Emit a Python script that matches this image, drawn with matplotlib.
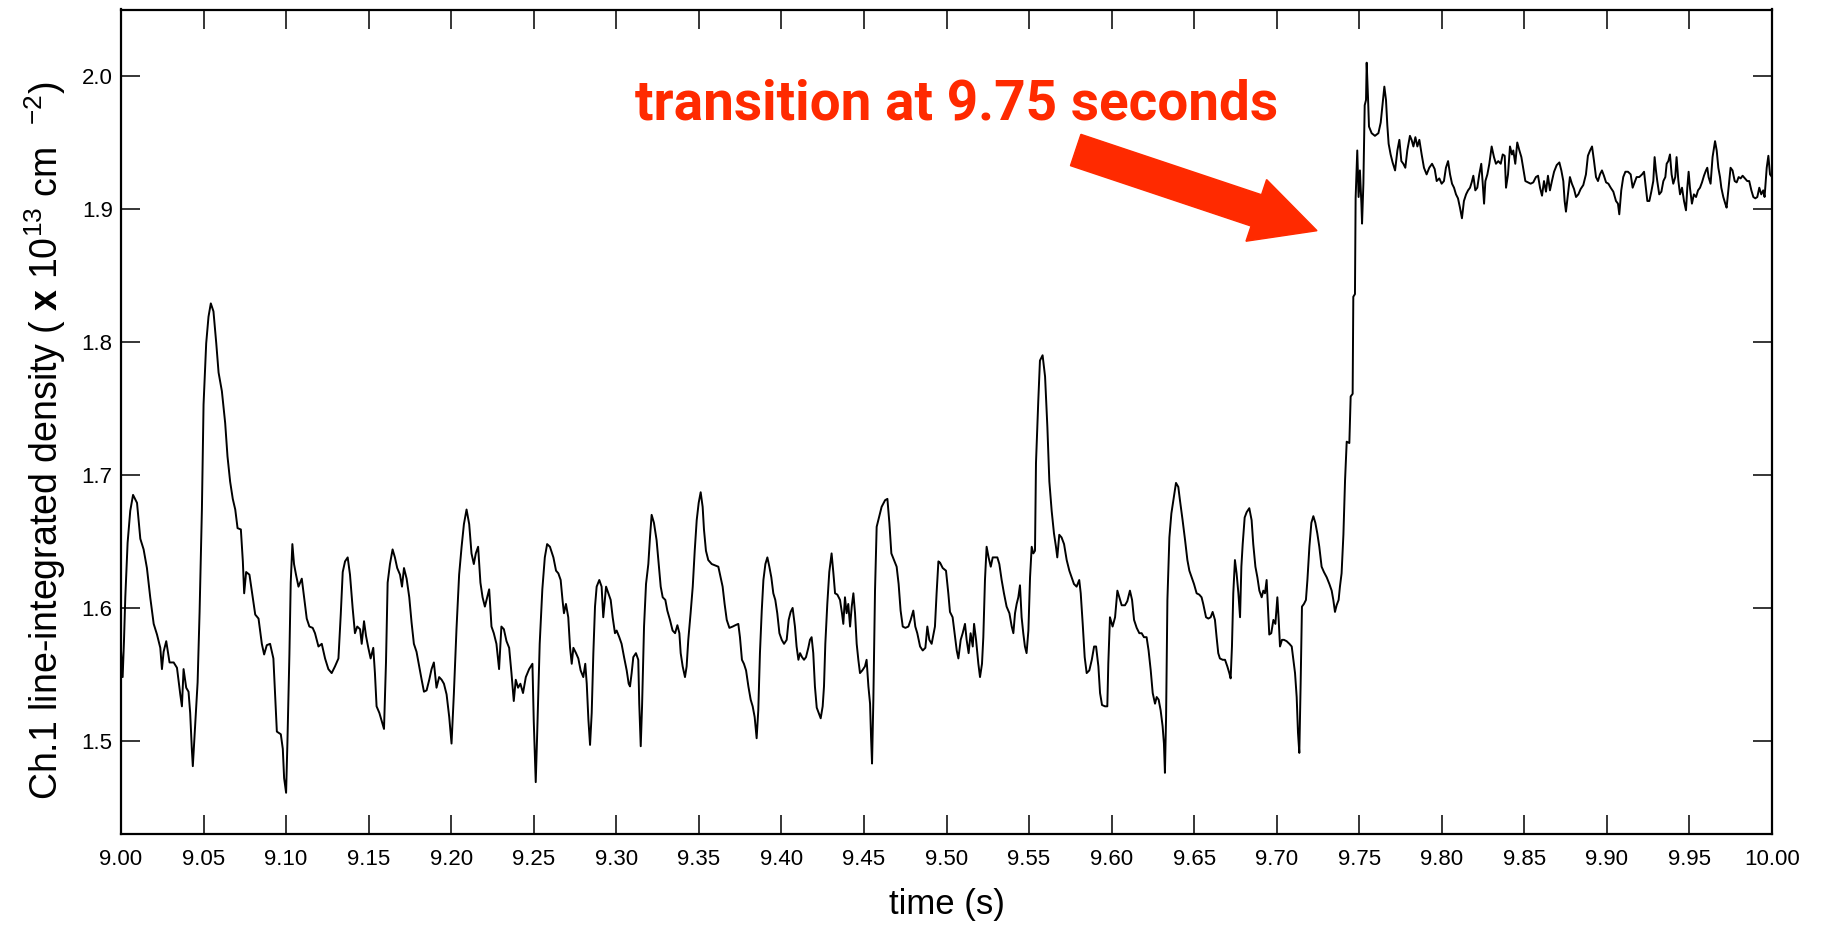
import numpy as np
from matplotlib import pyplot as plt
from matplotlib.patches import FancyArrow
from matplotlib.transforms import IdentityTransform

plt.rcParams['font.family'] = ['Liberation Sans', 'DejaVu Sans']
plt.rcParams['mathtext.fontset'] = 'custom'
plt.rcParams['mathtext.rm'] = 'Liberation Sans'
plt.rcParams['mathtext.bf'] = 'Liberation Sans:bold'

# (time [s], line-integrated density [1e13 cm^-2]) samples, channel 1
low_a = [
    (9.0000, 1.568), (9.0010, 1.548), (9.0018, 1.575), (9.0026, 1.608), (9.0040, 1.649),
    (9.0056, 1.673), (9.0073, 1.685), (9.0097, 1.679), (9.0117, 1.652), (9.0137, 1.644),
    (9.0157, 1.630), (9.0177, 1.608), (9.0198, 1.588), (9.0218, 1.580), (9.0238, 1.570),
    (9.0248, 1.554), (9.0258, 1.567), (9.0274, 1.575), (9.0294, 1.559), (9.0319, 1.559),
    (9.0339, 1.555), (9.0359, 1.535), (9.0369, 1.526), (9.0379, 1.554), (9.0395, 1.540),
    (9.0409, 1.537), (9.0419, 1.521), (9.0429, 1.494), (9.0435, 1.481), (9.0450, 1.513),
    (9.0464, 1.544), (9.0476, 1.597), (9.0490, 1.674), (9.0500, 1.753), (9.0516, 1.799),
    (9.0530, 1.819), (9.0544, 1.829), (9.0560, 1.823), (9.0577, 1.799), (9.0591, 1.777),
    (9.0611, 1.763), (9.0631, 1.739), (9.0645, 1.714), (9.0661, 1.695), (9.0677, 1.682),
    (9.0692, 1.674), (9.0706, 1.660), (9.0726, 1.659), (9.0738, 1.635), (9.0746, 1.611),
    (9.0758, 1.627), (9.0778, 1.625), (9.0798, 1.608), (9.0813, 1.595), (9.0833, 1.592),
    (9.0853, 1.573), (9.0867, 1.565), (9.0883, 1.572), (9.0903, 1.573), (9.0923, 1.562),
    (9.0933, 1.535), (9.0944, 1.507), (9.0968, 1.505), (9.0980, 1.494), (9.0988, 1.472),
    (9.1000, 1.461), (9.1008, 1.499), (9.1020, 1.565), (9.1028, 1.619), (9.1038, 1.648),
    (9.1048, 1.633), (9.1060, 1.625), (9.1075, 1.616), (9.1095, 1.622), (9.1109, 1.608),
    (9.1125, 1.592), (9.1141, 1.586), (9.1161, 1.585), (9.1175, 1.581), (9.1196, 1.571),
    (9.1216, 1.573), (9.1236, 1.562), (9.1256, 1.554), (9.1276, 1.551), (9.1296, 1.556),
    (9.1317, 1.562), (9.1331, 1.595), (9.1343, 1.627), (9.1357, 1.635), (9.1373, 1.638),
    (9.1387, 1.625), (9.1403, 1.600), (9.1417, 1.581), (9.1431, 1.586), (9.1448, 1.584),
    (9.1458, 1.573), (9.1472, 1.590), (9.1484, 1.579), (9.1498, 1.570), (9.1512, 1.562),
    (9.1528, 1.570), (9.1538, 1.551), (9.1548, 1.526), (9.1565, 1.521), (9.1579, 1.515),
    (9.1593, 1.509), (9.1605, 1.559), (9.1615, 1.619), (9.1629, 1.633), (9.1645, 1.644),
    (9.1659, 1.638), (9.1673, 1.630), (9.1690, 1.625), (9.1702, 1.616), (9.1714, 1.630),
    (9.1730, 1.622), (9.1746, 1.608), (9.1760, 1.589), (9.1774, 1.573), (9.1790, 1.567),
    (9.1806, 1.556), (9.1821, 1.546), (9.1835, 1.537), (9.1851, 1.538), (9.1867, 1.546),
    (9.1881, 1.554), (9.1895, 1.559), (9.1911, 1.540), (9.1927, 1.548), (9.1942, 1.546),
    (9.1956, 1.543), (9.1972, 1.535), (9.1988, 1.518), (9.2002, 1.498), (9.2016, 1.535),
    (9.2032, 1.584), (9.2048, 1.625), (9.2063, 1.646), (9.2077, 1.663), (9.2093, 1.674),
    (9.2109, 1.663), (9.2123, 1.641), (9.2137, 1.633), (9.2149, 1.641), (9.2163, 1.646),
    (9.2177, 1.619), (9.2190, 1.608), (9.2204, 1.601), (9.2218, 1.608), (9.2230, 1.614),
    (9.2244, 1.586), (9.2258, 1.581), (9.2274, 1.573), (9.2290, 1.554), (9.2304, 1.586),
    (9.2319, 1.584), (9.2335, 1.575), (9.2351, 1.570), (9.2365, 1.551), (9.2379, 1.530),
    (9.2391, 1.546), (9.2405, 1.540), (9.2419, 1.543), (9.2435, 1.536), (9.2452, 1.548),
    (9.2472, 1.554), (9.2492, 1.558), (9.2500, 1.515), (9.2512, 1.469), (9.2520, 1.502),
    (9.2536, 1.573), (9.2552, 1.614), (9.2567, 1.638), (9.2581, 1.648),
]

low_b = [
    (9.2598, 1.646), (9.2619, 1.638), (9.2635, 1.628), (9.2649, 1.626), (9.2663, 1.621),
    (9.2675, 1.605), (9.2683, 1.596), (9.2695, 1.603), (9.2709, 1.593), (9.2720, 1.570),
    (9.2730, 1.558), (9.2740, 1.570), (9.2756, 1.566), (9.2770, 1.562), (9.2784, 1.553),
    (9.2800, 1.548), (9.2812, 1.558), (9.2821, 1.543), (9.2831, 1.516), (9.2841, 1.497),
    (9.2851, 1.521), (9.2861, 1.566), (9.2871, 1.601), (9.2881, 1.616), (9.2897, 1.621),
    (9.2911, 1.616), (9.2921, 1.593), (9.2938, 1.616), (9.2952, 1.611), (9.2966, 1.606),
    (9.2978, 1.593), (9.2992, 1.581), (9.3002, 1.583), (9.3018, 1.578), (9.3032, 1.573),
    (9.3047, 1.563), (9.3063, 1.553), (9.3075, 1.543), (9.3083, 1.541), (9.3093, 1.551),
    (9.3103, 1.563), (9.3119, 1.566), (9.3133, 1.561), (9.3139, 1.528), (9.3148, 1.496),
    (9.3156, 1.526), (9.3168, 1.586), (9.3180, 1.618), (9.3194, 1.633), (9.3204, 1.653),
    (9.3214, 1.670), (9.3228, 1.664), (9.3244, 1.651), (9.3257, 1.633), (9.3269, 1.616),
    (9.3281, 1.608), (9.3297, 1.606), (9.3309, 1.598), (9.3325, 1.591), (9.3341, 1.583),
    (9.3356, 1.581), (9.3370, 1.587), (9.3382, 1.581), (9.3390, 1.566), (9.3402, 1.556),
    (9.3416, 1.548), (9.3426, 1.556), (9.3436, 1.576), (9.3450, 1.596), (9.3463, 1.616),
    (9.3475, 1.643), (9.3487, 1.666), (9.3499, 1.679), (9.3511, 1.687), (9.3523, 1.676),
    (9.3531, 1.659), (9.3543, 1.643), (9.3557, 1.636), (9.3578, 1.633), (9.3598, 1.632),
    (9.3618, 1.631), (9.3632, 1.623), (9.3644, 1.616), (9.3656, 1.603), (9.3669, 1.591),
    (9.3685, 1.585), (9.3705, 1.586), (9.3721, 1.587), (9.3739, 1.588), (9.3749, 1.578),
    (9.3761, 1.561), (9.3773, 1.558), (9.3786, 1.553), (9.3800, 1.541), (9.3814, 1.531),
    (9.3826, 1.526), (9.3838, 1.518), (9.3850, 1.502), (9.3860, 1.523), (9.3870, 1.566),
    (9.3881, 1.598), (9.3891, 1.621), (9.3903, 1.633), (9.3915, 1.638), (9.3927, 1.631),
    (9.3939, 1.623), (9.3951, 1.611), (9.3963, 1.606), (9.3975, 1.596), (9.3988, 1.581),
    (9.4002, 1.576), (9.4016, 1.573), (9.4032, 1.576), (9.4044, 1.591), (9.4056, 1.597),
    (9.4068, 1.600), (9.4082, 1.586), (9.4092, 1.571), (9.4103, 1.561), (9.4113, 1.566),
    (9.4125, 1.563), (9.4137, 1.561), (9.4149, 1.563), (9.4163, 1.570), (9.4173, 1.576),
    (9.4183, 1.578), (9.4193, 1.566), (9.4203, 1.541), (9.4214, 1.525), (9.4226, 1.521),
    (9.4238, 1.517), (9.4250, 1.526), (9.4258, 1.541), (9.4266, 1.573), (9.4278, 1.603),
    (9.4290, 1.627), (9.4304, 1.641), (9.4315, 1.626), (9.4325, 1.611), (9.4339, 1.610),
    (9.4355, 1.606), (9.4367, 1.596), (9.4375, 1.588), (9.4385, 1.608), (9.4395, 1.596),
    (9.4405, 1.603), (9.4416, 1.586), (9.4426, 1.601), (9.4436, 1.611), (9.4446, 1.596),
    (9.4456, 1.573), (9.4466, 1.561), (9.4476, 1.551), (9.4490, 1.553), (9.4506, 1.556),
    (9.4516, 1.561), (9.4527, 1.541), (9.4537, 1.528), (9.4543, 1.503), (9.4549, 1.483),
    (9.4557, 1.531), (9.4567, 1.613), (9.4577, 1.661), (9.4593, 1.669), (9.4607, 1.676),
    (9.4628, 1.681), (9.4642, 1.682), (9.4654, 1.664), (9.4666, 1.641), (9.4682, 1.636),
    (9.4698, 1.631), (9.4710, 1.618), (9.4722, 1.598), (9.4735, 1.586), (9.4751, 1.585),
    (9.4769, 1.586), (9.4783, 1.591), (9.4799, 1.598), (9.4811, 1.586), (9.4823, 1.581),
    (9.4840, 1.571), (9.4856, 1.568), (9.4872, 1.570), (9.4884, 1.586), (9.4896, 1.576),
    (9.4910, 1.573), (9.4930, 1.586), (9.4940, 1.611), (9.4951, 1.635), (9.4961, 1.634),
    (9.4977, 1.630), (9.4997, 1.628), (9.5011, 1.611), (9.5021, 1.597), (9.5037, 1.593),
    (9.5049, 1.581), (9.5062, 1.568), (9.5072, 1.562), (9.5086, 1.576), (9.5098, 1.581),
    (9.5112, 1.588), (9.5122, 1.576), (9.5134, 1.566), (9.5146, 1.581), (9.5159, 1.571),
    (9.5167, 1.588), (9.5179, 1.576), (9.5193, 1.558), (9.5203, 1.548), (9.5215, 1.558),
    (9.5223, 1.578), (9.5233, 1.621), (9.5243, 1.646), (9.5255, 1.638), (9.5268, 1.631),
    (9.5280, 1.638), (9.5294, 1.638), (9.5308, 1.638), (9.5320, 1.633), (9.5334, 1.621),
    (9.5348, 1.611), (9.5364, 1.601), (9.5381, 1.596), (9.5395, 1.586), (9.5405, 1.581),
    (9.5415, 1.596), (9.5425, 1.603), (9.5435, 1.608), (9.5445, 1.617), (9.5455, 1.593),
    (9.5465, 1.581), (9.5475, 1.571), (9.5485, 1.566), (9.5496, 1.583), (9.5506, 1.623),
    (9.5516, 1.646), (9.5526, 1.641), (9.5536, 1.643), (9.5542, 1.709), (9.5550, 1.736),
    (9.5556, 1.756),
]

low_c = [
    (9.5566, 1.786), (9.5582, 1.790), (9.5597, 1.774), (9.5611, 1.736), (9.5623, 1.695),
    (9.5637, 1.673), (9.5651, 1.656), (9.5663, 1.646), (9.5671, 1.638), (9.5683, 1.655),
    (9.5697, 1.653), (9.5712, 1.648), (9.5728, 1.636), (9.5744, 1.628), (9.5758, 1.623),
    (9.5772, 1.618), (9.5788, 1.616), (9.5804, 1.621), (9.5813, 1.611), (9.5825, 1.588),
    (9.5837, 1.563), (9.5849, 1.551), (9.5865, 1.553), (9.5880, 1.561), (9.5894, 1.571),
    (9.5906, 1.571), (9.5920, 1.556), (9.5930, 1.536), (9.5942, 1.527), (9.5960, 1.526),
    (9.5974, 1.526), (9.5980, 1.558), (9.5990, 1.593), (9.6006, 1.586), (9.6021, 1.593),
    (9.6035, 1.613), (9.6047, 1.608), (9.6061, 1.602), (9.6081, 1.602), (9.6095, 1.605),
    (9.6111, 1.613), (9.6124, 1.606), (9.6136, 1.591), (9.6152, 1.585), (9.6168, 1.581),
    (9.6182, 1.581), (9.6196, 1.578), (9.6212, 1.578), (9.6224, 1.568), (9.6237, 1.553),
    (9.6249, 1.536), (9.6263, 1.528), (9.6273, 1.533), (9.6285, 1.531), (9.6297, 1.523),
    (9.6309, 1.511), (9.6317, 1.498), (9.6323, 1.476), (9.6330, 1.518), (9.6338, 1.606),
    (9.6350, 1.653), (9.6362, 1.671), (9.6374, 1.681), (9.6390, 1.694), (9.6404, 1.691),
    (9.6414, 1.681), (9.6430, 1.666), (9.6445, 1.651), (9.6459, 1.636), (9.6471, 1.628),
    (9.6485, 1.623), (9.6499, 1.618), (9.6515, 1.611), (9.6531, 1.610), (9.6545, 1.608),
    (9.6555, 1.603), (9.6572, 1.593), (9.6586, 1.592), (9.6600, 1.593), (9.6612, 1.597),
    (9.6626, 1.591), (9.6636, 1.578), (9.6646, 1.566), (9.6656, 1.562), (9.6673, 1.561),
    (9.6687, 1.561), (9.6701, 1.556), (9.6713, 1.551), (9.6721, 1.547), (9.6729, 1.571),
    (9.6737, 1.611), (9.6747, 1.636), (9.6757, 1.626), (9.6768, 1.611), (9.6778, 1.593),
    (9.6786, 1.631), (9.6794, 1.648), (9.6806, 1.668), (9.6818, 1.672), (9.6834, 1.675),
    (9.6848, 1.666), (9.6858, 1.648), (9.6871, 1.631), (9.6883, 1.623), (9.6895, 1.613),
    (9.6909, 1.608), (9.6919, 1.613), (9.6929, 1.611), (9.6939, 1.621), (9.6947, 1.601),
    (9.6955, 1.580), (9.6967, 1.581), (9.6980, 1.591), (9.6992, 1.588), (9.7004, 1.608),
    (9.7012, 1.591), (9.7020, 1.571), (9.7032, 1.576), (9.7044, 1.576), (9.7060, 1.575),
    (9.7077, 1.573), (9.7091, 1.571), (9.7101, 1.561), (9.7111, 1.551), (9.7121, 1.533),
    (9.7129, 1.506), (9.7137, 1.491), (9.7145, 1.543), (9.7153, 1.601), (9.7165, 1.603),
    (9.7177, 1.606), (9.7186, 1.621), (9.7198, 1.646), (9.7210, 1.664), (9.7222, 1.669),
    (9.7234, 1.664), (9.7246, 1.656), (9.7258, 1.646), (9.7272, 1.631), (9.7286, 1.627),
    (9.7303, 1.623), (9.7319, 1.618), (9.7333, 1.613), (9.7343, 1.606), (9.7353, 1.597),
    (9.7363, 1.602), (9.7375, 1.606), (9.7383, 1.616), (9.7393, 1.626), (9.7404, 1.655),
    (9.7414, 1.696), (9.7424, 1.725), (9.7440, 1.724), (9.7448, 1.759), (9.7460, 1.761),
]

high = [
    (9.7464, 1.834), (9.7474, 1.836), (9.7478, 1.908), (9.7488, 1.944), (9.7496, 1.909),
    (9.7504, 1.929), (9.7513, 1.904), (9.7517, 1.889), (9.7525, 1.919), (9.7533, 1.978),
    (9.7541, 1.982), (9.7545, 2.010), (9.7553, 1.984), (9.7559, 1.962), (9.7575, 1.957),
    (9.7595, 1.955), (9.7616, 1.957), (9.7630, 1.965), (9.7642, 1.980), (9.7652, 1.992),
    (9.7662, 1.982), (9.7670, 1.963), (9.7678, 1.949), (9.7690, 1.941), (9.7702, 1.935),
    (9.7717, 1.929), (9.7731, 1.944), (9.7743, 1.952), (9.7755, 1.936), (9.7767, 1.934),
    (9.7779, 1.931), (9.7791, 1.944), (9.7807, 1.955), (9.7817, 1.952), (9.7828, 1.947),
    (9.7840, 1.954), (9.7852, 1.947), (9.7864, 1.952), (9.7878, 1.941), (9.7892, 1.931),
    (9.7908, 1.926), (9.7924, 1.931), (9.7941, 1.934), (9.7957, 1.930), (9.7969, 1.921),
    (9.7985, 1.923), (9.7999, 1.919), (9.8013, 1.921), (9.8025, 1.931), (9.8038, 1.936),
    (9.8050, 1.926), (9.8062, 1.919), (9.8074, 1.916), (9.8086, 1.911), (9.8098, 1.908),
    (9.8110, 1.901), (9.8122, 1.893), (9.8134, 1.906), (9.8147, 1.911), (9.8159, 1.914),
    (9.8171, 1.916), (9.8181, 1.920), (9.8191, 1.925), (9.8203, 1.914), (9.8215, 1.916),
    (9.8227, 1.926), (9.8239, 1.934), (9.8248, 1.919), (9.8256, 1.904), (9.8264, 1.921),
    (9.8276, 1.926), (9.8288, 1.934), (9.8302, 1.947), (9.8316, 1.939), (9.8328, 1.934),
    (9.8342, 1.936), (9.8357, 1.934), (9.8369, 1.941), (9.8381, 1.940), (9.8389, 1.916),
    (9.8401, 1.926), (9.8413, 1.947), (9.8425, 1.941), (9.8433, 1.944), (9.8445, 1.934),
    (9.8457, 1.950), (9.8470, 1.944), (9.8482, 1.939), (9.8494, 1.930), (9.8506, 1.921),
    (9.8522, 1.920), (9.8538, 1.919), (9.8554, 1.920), (9.8570, 1.924), (9.8583, 1.925),
    (9.8595, 1.916), (9.8607, 1.910), (9.8619, 1.921), (9.8631, 1.913), (9.8643, 1.925),
    (9.8655, 1.914), (9.8667, 1.921), (9.8680, 1.928), (9.8696, 1.933), (9.8712, 1.935),
    (9.8724, 1.929), (9.8736, 1.921), (9.8744, 1.906), (9.8752, 1.898), (9.8764, 1.911),
    (9.8776, 1.924), (9.8788, 1.919), (9.8801, 1.915), (9.8813, 1.909), (9.8827, 1.911),
    (9.8841, 1.915), (9.8857, 1.918), (9.8873, 1.926), (9.8885, 1.940), (9.8898, 1.944),
    (9.8910, 1.947), (9.8922, 1.936), (9.8934, 1.924), (9.8946, 1.921), (9.8958, 1.926),
    (9.8970, 1.929), (9.8982, 1.925), (9.8995, 1.920), (9.9009, 1.919), (9.9023, 1.916),
    (9.9039, 1.913), (9.9055, 1.906), (9.9067, 1.904), (9.9075, 1.896), (9.9087, 1.914),
    (9.9099, 1.924), (9.9112, 1.928), (9.9128, 1.928), (9.9144, 1.926), (9.9156, 1.916),
    (9.9168, 1.920), (9.9180, 1.924), (9.9196, 1.924), (9.9213, 1.926), (9.9225, 1.928),
    (9.9233, 1.919), (9.9245, 1.906), (9.9257, 1.906), (9.9269, 1.913), (9.9281, 1.921),
    (9.9289, 1.939), (9.9297, 1.929), (9.9305, 1.921), (9.9317, 1.911), (9.9330, 1.913),
    (9.9342, 1.921), (9.9354, 1.924), (9.9362, 1.934), (9.9372, 1.936), (9.9382, 1.941),
    (9.9392, 1.926), (9.9402, 1.919), (9.9414, 1.924), (9.9422, 1.939), (9.9433, 1.921),
    (9.9443, 1.911), (9.9455, 1.916), (9.9467, 1.906), (9.9479, 1.899), (9.9487, 1.916),
    (9.9495, 1.928), (9.9503, 1.916), (9.9515, 1.904), (9.9527, 1.911), (9.9540, 1.909),
    (9.9552, 1.914), (9.9564, 1.916), (9.9576, 1.920), (9.9588, 1.925), (9.9600, 1.929),
    (9.9608, 1.931), (9.9616, 1.924), (9.9628, 1.919), (9.9640, 1.939), (9.9655, 1.951),
    (9.9665, 1.944), (9.9675, 1.931), (9.9685, 1.924), (9.9693, 1.916), (9.9705, 1.909),
    (9.9717, 1.904), (9.9725, 1.901), (9.9737, 1.916), (9.9749, 1.931), (9.9761, 1.929),
    (9.9774, 1.921), (9.9786, 1.920), (9.9798, 1.924), (9.9810, 1.923), (9.9822, 1.925),
    (9.9836, 1.923), (9.9850, 1.921), (9.9862, 1.921), (9.9875, 1.914), (9.9887, 1.909),
    (9.9899, 1.908), (9.9911, 1.909), (9.9923, 1.916), (9.9935, 1.911), (9.9947, 1.914),
    (9.9955, 1.909), (9.9968, 1.931), (9.9978, 1.940), (9.9988, 1.926), (10.0000, 1.924),
]

x_ticks = np.arange(9.0, 10.001, 0.05)
y_ticks = [1.5, 1.6, 1.7, 1.8, 1.9, 2.0]

trace = np.array(low_a + low_b + low_c + high)
t, n = trace[:, 0], trace[:, 1]

W, H = 1822, 925
fig = plt.figure(figsize=(W / 100, H / 100), dpi=100)
ax = fig.add_axes([121 / W, 1 - 834 / H, (1772 - 121) / W, (834 - 9.5) / H])

ax.plot(t, n, color='black', lw=1.4)
ax.set_xlim(9.0, 10.0)
ax.set_ylim(1.43, 2.05)

ax.set_xticks(x_ticks, labels=[f'{v:.2f}' for v in x_ticks])
ax.set_yticks(y_ticks, labels=[f'{v:.1f}' for v in y_ticks])
ax.tick_params(direction='in', length=14, width=1.1, top=True, right=True,
               labelsize=16)
ax.tick_params(axis='x', pad=11)
ax.tick_params(axis='y', pad=6)
for s in ax.spines.values():
    s.set_linewidth(1.6)

ax.set_xlabel('time (s)', fontsize=25)
ax.xaxis.set_label_coords(0.5, -0.066)
ax.set_ylabel(r'Ch.1 line-integrated density ( $\mathbf{x}$ 10$^{13}$ cm  $^{-2}$)',
              fontsize=27)
ax.yaxis.set_label_coords(-0.032, 0.477)

# red callout for the transition
red = '#ff2a00'
fig.text(957 / W, 1 - 119 / H, 'transition at 9.75 seconds', fontsize=39.5,
         fontweight='bold', color=red, ha='center', va='baseline',
         family=['Roboto', 'Liberation Sans'])
arrow = FancyArrow(1075.7, H - 150, 241.3, -80.7, width=33, head_width=65,
                   head_length=64, length_includes_head=True, color=red,
                   transform=IdentityTransform())
fig.add_artist(arrow)

fig.savefig('out.png', dpi=100)
